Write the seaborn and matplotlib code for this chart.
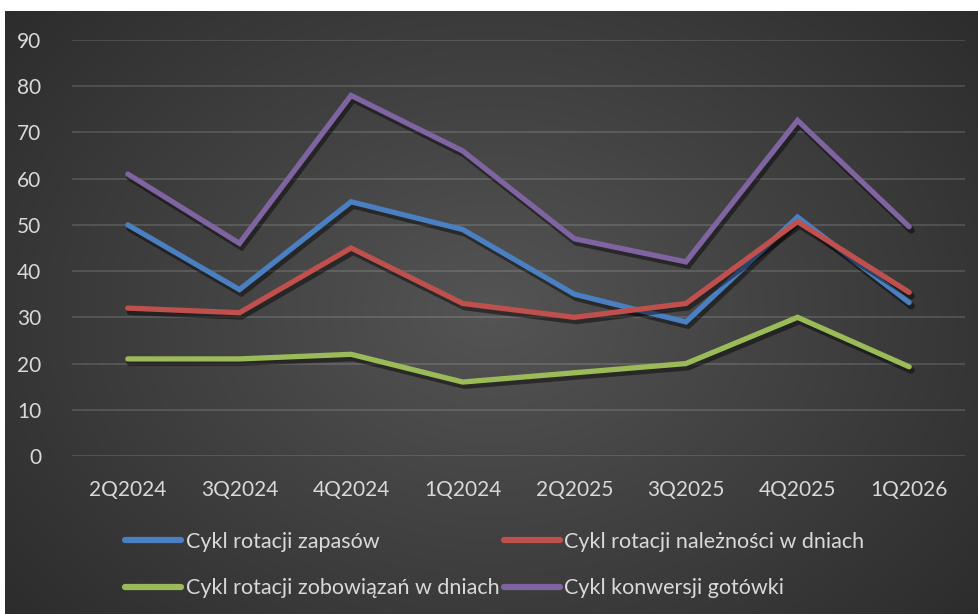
import numpy as np
import pandas as pd
import matplotlib
matplotlib.use("Agg")
import matplotlib.pyplot as plt
import matplotlib.patheffects as pe
import seaborn as sns

quarters = ["2Q2024", "3Q2024", "4Q2024", "1Q2024", "2Q2025", "3Q2025", "4Q2025", "1Q2026"]
zapasy = [50, 36, 55, 49, 35, 29, 51.7, 33.2]
naleznosci = [32, 31, 45, 33, 30, 33, 50.7, 35.4]
zobowiazania = [21, 21, 22, 16, 18, 20, 30, 19.3]
konwersja = [61, 46, 78, 66, 47, 42, 72.6, 49.6]

series_names = [
    "Cykl rotacji zapasów",
    "Cykl rotacji należności w dniach",
    "Cykl rotacji zobowiązań w dniach",
    "Cykl konwersji gotówki",
]
series_values = [zapasy, naleznosci, zobowiazania, konwersja]
palette = ["#4a7fc1", "#c0504d", "#9bbb59", "#8064a2"]

rows = []
for name, vals in zip(series_names, series_values):
    for i, (q, v) in enumerate(zip(quarters, vals)):
        rows.append({"idx": i, "kwartal": q, "seria": name, "dni": v})
df = pd.DataFrame(rows)

sns.set_theme(style="dark")
plt.rcParams["font.family"] = ["Lato", "DejaVu Sans"]

W, H = 979, 614
fig = plt.figure(figsize=(W / 100, H / 100), dpi=100, facecolor="white")

# dark radial-gradient panel behind the chart
bg = fig.add_axes([5 / W, 0, (W - 5) / W, (H - 11) / H])
bg.set_axis_off()
yy, xx = np.mgrid[0:603, 0:974]
cx, cy = 487, 300
r = np.sqrt(((xx - cx) / 560.0) ** 2 + ((yy - cy) / 420.0) ** 2)
shade = 0.33 - 0.18 * np.clip(r, 0, 1.3) / 1.3
bg.imshow(np.dstack([shade] * 3), aspect="auto", interpolation="bilinear")

ax = fig.add_axes([72 / W, (H - 456) / H, (965 - 72) / W, (456 - 40) / H])
ax.patch.set_alpha(0)

sns.lineplot(
    data=df, x="idx", y="dni", hue="seria", hue_order=series_names,
    palette=palette, linewidth=3.8, ax=ax, legend=False, sort=False,
)
for line in ax.get_lines():
    line.set_solid_capstyle("round")
    line.set_solid_joinstyle("miter")
    line.set_path_effects([
        pe.SimpleLineShadow(offset=(1.5, -2.5), shadow_color="black", alpha=0.45, linewidth=5),
        pe.Normal(),
    ])

ax.set_xlim(-0.5, len(quarters) - 0.5)
ax.set_ylim(0, 90)
ax.set_yticks(range(0, 91, 10))
ax.set_xticks(range(len(quarters)))
ax.set_xticklabels(quarters)
ax.set_xlabel("")
ax.set_ylabel("")
ax.grid(axis="y", color="white", alpha=0.13, linewidth=1.5)
ax.grid(axis="x", visible=False)
for s in ax.spines.values():
    s.set_visible(False)
ax.tick_params(axis="both", colors="#d9d9d9", labelsize=15, length=0)
ax.tick_params(axis="y", pad=22)
ax.tick_params(axis="x", pad=17)

handles = [plt.Line2D([], [], color=c, linewidth=4.5, solid_capstyle="round") for c in palette]
order = [0, 2, 1, 3]
leg = fig.legend(
    [handles[i] for i in order], [series_names[i] for i in order],
    ncol=2, loc="center left", bbox_to_anchor=(106 / W, (H - 565) / H),
    frameon=False, fontsize=15.5, handlelength=2.6, handletextpad=0.2,
    columnspacing=0.2, labelspacing=1.25, labelcolor="#d9d9d9",
)

fig.savefig("out.png", dpi=100, facecolor="white")
